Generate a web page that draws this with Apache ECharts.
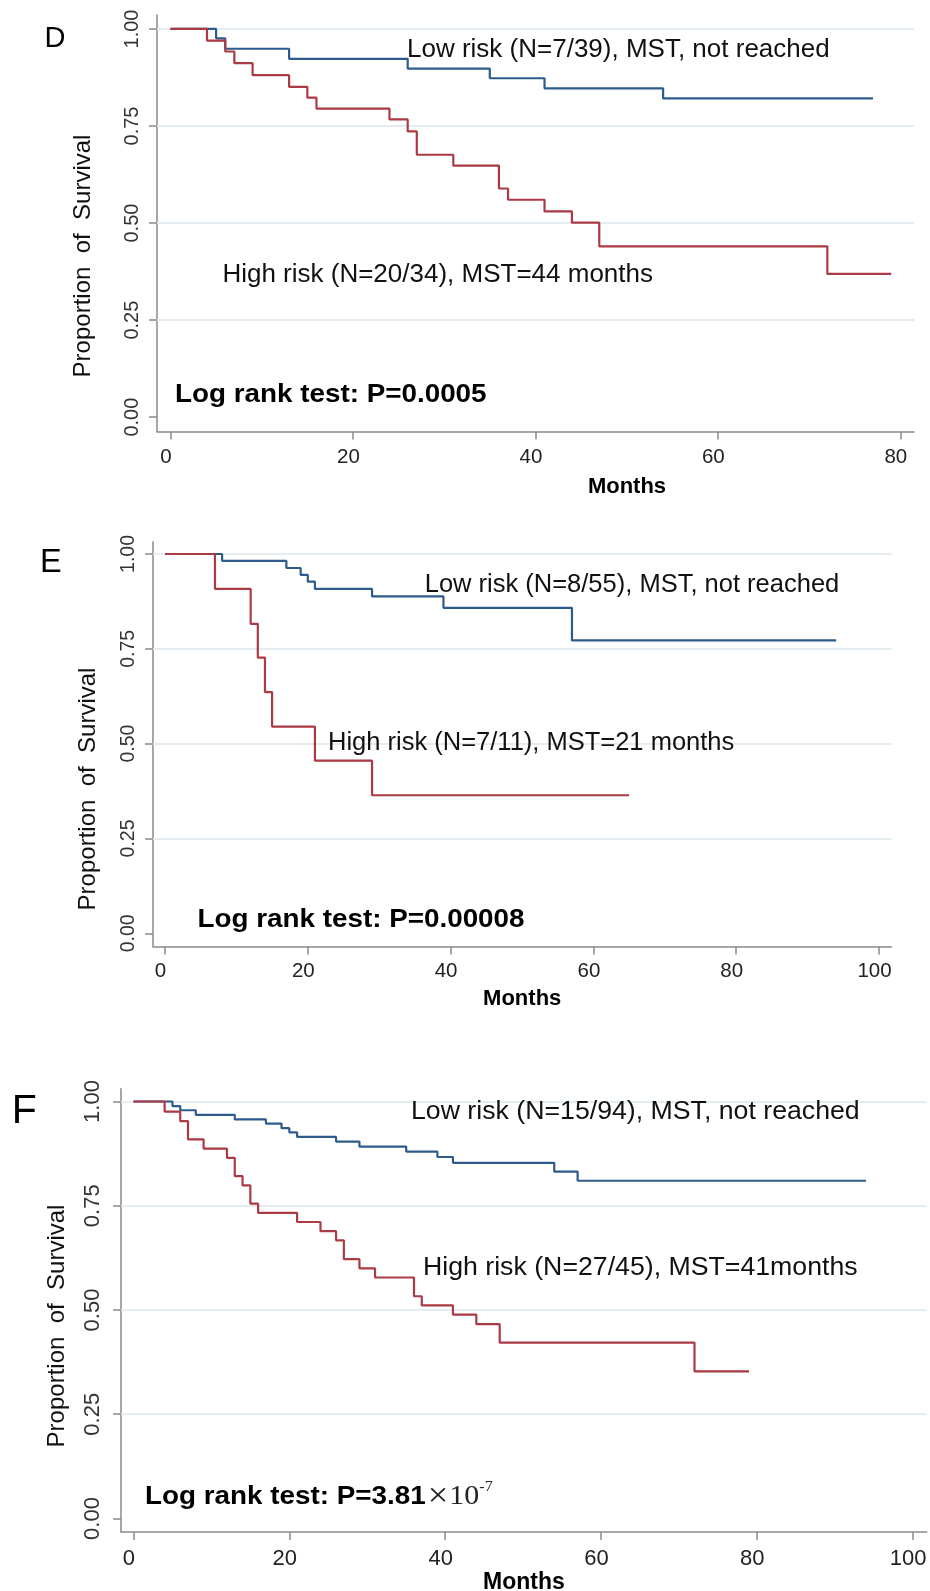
<!DOCTYPE html>
<html><head><meta charset="utf-8">
<script src="https://cdn.jsdelivr.net/npm/echarts@6/dist/echarts.min.js"></script>
<style>html,body{margin:0;padding:0;background:#fff}#c{width:930px;height:1591px}</style>
</head><body><div id="c"></div>
<script>
// ---- Panel D ----
const D_LOW_T = [5, 6, 13, 26, 35, 41, 54];
const D_LOW_S = [0.976, 0.949, 0.923, 0.898, 0.873, 0.847, 0.821];
const D_LOW_END = 77;
const D_HIGH_T = [4, 6, 7, 9, 13, 15, 16, 24, 26, 27, 31, 36, 37, 41, 44, 47, 72];
const D_HIGH_S = [0.970, 0.942, 0.912, 0.881, 0.851, 0.823, 0.795, 0.767, 0.736, 0.676, 0.648, 0.589, 0.560, 0.530, 0.501, 0.440, 0.369];
const D_HIGH_END = 79;
// ---- Panel E ----
const E_LOW_T = [8, 17, 19, 20, 21, 29, 39, 57];
const E_LOW_S = [0.982, 0.963, 0.945, 0.927, 0.908, 0.888, 0.858, 0.772];
const E_LOW_END = 94;
const E_HIGH_T = [7, 12, 13, 14, 15, 21, 29];
const E_HIGH_S = [0.908, 0.816, 0.727, 0.636, 0.545, 0.455, 0.364];
const E_HIGH_END = 65;
// ---- Panel F ----
const F_LOW_T = [5, 6, 8, 13, 17, 19, 20, 21, 26, 29, 35, 39, 41, 54, 57];
const F_LOW_S = [0.989, 0.979, 0.968, 0.957, 0.947, 0.936, 0.926, 0.915, 0.904, 0.892, 0.880, 0.867, 0.853, 0.832, 0.810];
const F_LOW_END = 94;
const F_HIGH_T = [4, 6, 7, 9, 12, 13, 14, 15, 16, 21, 24, 26, 27, 29, 31, 36, 37, 41, 44, 47, 72];
const F_HIGH_S = [0.976, 0.953, 0.909, 0.887, 0.865, 0.821, 0.799, 0.755, 0.733, 0.711, 0.689, 0.667, 0.622, 0.600, 0.578, 0.533, 0.511, 0.489, 0.466, 0.422, 0.353];
const F_HIGH_END = 79;

// ---- ticks / labels ----
const Y_TICKS = [0, 0.25, 0.5, 0.75, 1];
const Y_GRID = [0.25, 0.5, 0.75, 1];
const D_X_TICKS = [0, 20, 40, 60, 80];
const EF_X_TICKS = [0, 20, 40, 60, 80, 100];
const PANEL_LETTERS = ['D', 'E', 'F'];
const LOW_TEXT = ['Low risk (N=7/39), MST, not reached', 'Low risk (N=8/55), MST, not reached', 'Low risk (N=15/94), MST, not reached'];
const HIGH_TEXT = ['High risk (N=20/34), MST=44 months', 'High risk (N=7/11), MST=21 months', 'High risk (N=27/45), MST=41months'];
const LOGRANK_TEXT = ['Log rank test: P=0.0005', 'Log rank test: P=0.00008', '{b|Log rank test: P=3.81}{x|\u00D7}{t|10}{s|-7}'];
const Y_TITLE = 'Proportion  of  Survival';
const X_TITLE = 'Months';

const SANS = "'Liberation Sans', Arial, sans-serif";
const SERIF = "'Liberation Serif', 'Times New Roman', serif";
const BLUE = '#2d5b8c';
const RED = '#ab3a45';
const AXIS = '#8a8a8a';

function km(t, s, end) {
  const out = [[0, 1]];
  for (let i = 0; i < t.length; i++) out.push([t[i], s[i]]);
  out.push([end, s[s.length - 1]]);
  return out;
}

const panels = [
  { grid: {left: 157, top: 15, width: 757, height: 416.5}, xmin: -1.48, xmax: 81.5, ymin: -0.037, ymax: 1.036,
    xticks: D_X_TICKS, xfs: 20.5, lm: 15.5, yfs: 20, ym: 15, nfs: 22, ng: 44.5, pad: 183,
    low: km(D_LOW_T, D_LOW_S, D_LOW_END), high: km(D_HIGH_T, D_HIGH_S, D_HIGH_END) },
  { grid: {left: 153, top: 541.7, width: 738.4, height: 404.8}, xmin: -1.68, xmax: 101.74, ymin: -0.0348, ymax: 1.0324,
    xticks: EF_X_TICKS, xfs: 20.5, lm: 14, yfs: 19.5, ym: 14, nfs: 22, ng: 41.5, pad: 0,
    low: km(E_LOW_T, E_LOW_S, E_LOW_END), high: km(E_HIGH_T, E_HIGH_S, E_HIGH_END) },
  { grid: {left: 121, top: 1088.8, width: 805.7, height: 443.2}, xmin: -1.60, xmax: 101.8, ymin: -0.0324, ymax: 1.0305,
    xticks: EF_X_TICKS, xfs: 22, lm: 16, yfs: 22, ym: 17, nfs: 23, ng: 38, pad: 0,
    low: km(F_LOW_T, F_LOW_S, F_LOW_END), high: km(F_HIGH_T, F_HIGH_S, F_HIGH_END) }
];

// text placement (layout only)
const textPos = [
  { letter: [44.5, 39, 29], low: [407, 50.3, 26], high: [222.4, 275, 26], lr: [175, 394.5], yt: [83.3, 256] },
  { letter: [40, 563.5, 32.5], low: [424.7, 585, 25.5], high: [328, 743.3, 25.5], lr: [197.5, 919.5], yt: [88, 789] },
  { letter: [11.7, 1111.7, 41], low: [411, 1111.5, 26.7], high: [423, 1268, 26.7], lr: [145, 1497], yt: [57.8, 1326] }
];

const grids = [], xAxes = [], yAxes = [], series = [], graphics = [];
panels.forEach((p, i) => {
  grids.push(Object.assign({ containLabel: false, outerBoundsMode: 'none' }, p.grid));
  xAxes.push({
    type: 'value', gridIndex: i, min: p.xmin, max: p.xmax,
    axisLine: { show: true, onZero: false, lineStyle: { color: AXIS, width: 1.5 } },
    axisTick: { show: true, inside: false, length: 8, customValues: p.xticks, lineStyle: { color: AXIS, width: 1.5 } },
    axisLabel: { show: true, customValues: p.xticks, margin: p.lm, fontSize: p.xfs, fontFamily: SANS, color: '#222', padding: [0, 9, 0, 0] },
    splitLine: { show: false },
    name: X_TITLE, nameLocation: 'middle', nameGap: p.ng,
    nameTextStyle: { fontSize: p.nfs, fontWeight: 'bold', fontFamily: SANS, color: '#000', padding: [0, 0, 0, p.pad] }
  });
  yAxes.push({
    type: 'value', gridIndex: i, min: p.ymin, max: p.ymax,
    axisLine: { show: true, onZero: false, lineStyle: { color: AXIS, width: 1.5 } },
    axisTick: { show: true, inside: false, length: 8, customValues: Y_TICKS, lineStyle: { color: AXIS, width: 1.5 } },
    axisLabel: { show: true, customValues: Y_TICKS, rotate: 90, margin: p.ym, fontSize: p.yfs, fontFamily: SANS, color: '#333',
      formatter: v => Number(v).toFixed(2) },
    splitLine: { show: false }
  });
  series.push({
    type: 'line', xAxisIndex: i, yAxisIndex: i, data: [], z: 1, silent: true,
    markLine: { silent: true, z: 1, symbol: 'none', label: { show: false }, animation: false,
      lineStyle: { color: '#e2ecf1', width: 2, type: 'solid' },
      emphasis: { disabled: true },
      data: Y_GRID.map(v => ({ yAxis: v })) }
  });
  series.push({ type: 'line', name: 'low', xAxisIndex: i, yAxisIndex: i, step: 'end', data: p.low, symbol: 'none',
    lineStyle: { color: BLUE, width: 2.2 }, itemStyle: { color: BLUE }, z: 3, silent: true });
  series.push({ type: 'line', name: 'high', xAxisIndex: i, yAxisIndex: i, step: 'end', data: p.high, symbol: 'none',
    lineStyle: { color: RED, width: 2.2 }, itemStyle: { color: RED }, z: 4, silent: true });

  const tp = textPos[i];
  graphics.push({ type: 'text', x: tp.letter[0], y: tp.letter[1], z: 10, silent: true,
    style: { text: PANEL_LETTERS[i], fontSize: tp.letter[2], fontFamily: SANS, fill: '#000', align: 'left', verticalAlign: 'middle' } });
  graphics.push({ type: 'text', x: tp.low[0], y: tp.low[1], z: 10, silent: true,
    style: { text: LOW_TEXT[i], fontSize: tp.low[2], fontFamily: SANS, fill: '#111', align: 'left', verticalAlign: 'middle' } });
  graphics.push({ type: 'text', x: tp.high[0], y: tp.high[1], z: 10, silent: true,
    style: { text: HIGH_TEXT[i], fontSize: tp.high[2], fontFamily: SANS, fill: '#111', align: 'left', verticalAlign: 'middle' } });
  const lrStyle = { text: LOGRANK_TEXT[i], fontSize: 26, fontWeight: 'bold', fontFamily: SANS, fill: '#000', align: 'left', verticalAlign: 'middle' };
  if (i === 2) {
    lrStyle.rich = {
      b: { fontSize: 26, fontWeight: 'bold', fontFamily: SANS, fill: '#000' },
      x: { fontSize: 34, fontWeight: 'normal', fontFamily: SERIF, fill: '#222', padding: [0, 1, 0, 2] },
      t: { fontSize: 28, fontWeight: 'normal', fontFamily: SERIF, fill: '#222' },
      s: { fontSize: 15, fontWeight: 'normal', fontFamily: SERIF, fill: '#222', verticalAlign: 'top' }
    };
  }
  graphics.push({ type: 'text', x: tp.lr[0], y: tp.lr[1], scaleX: 1.07, z: 10, silent: true, style: lrStyle });
  graphics.push({ type: 'text', x: tp.yt[0], y: tp.yt[1], rotation: Math.PI / 2, z: 10, silent: true,
    style: { text: Y_TITLE, fontSize: 24, fontFamily: SANS, fill: '#111', align: 'center', verticalAlign: 'middle' } });
});

const chart = echarts.init(document.getElementById('c'), null, { renderer: 'canvas' });
chart.setOption({
  backgroundColor: '#ffffff',
  animation: false,
  grid: grids, xAxis: xAxes, yAxis: yAxes, series: series, graphic: graphics
});
</script></body></html>
